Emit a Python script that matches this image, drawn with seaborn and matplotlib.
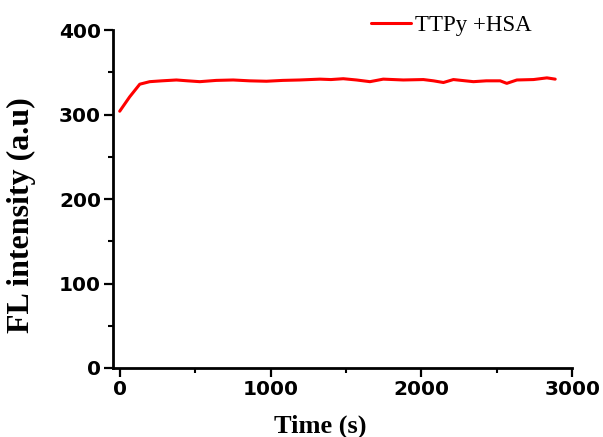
import matplotlib
matplotlib.use("Agg")
import matplotlib.pyplot as plt
import seaborn as sns
import pandas as pd
from matplotlib.ticker import MultipleLocator

time_s = [0, 66, 133, 199, 280, 376, 450, 531, 640, 752, 860, 973, 1080, 1194, 1327,
          1400, 1482, 1570, 1659, 1747, 1880, 2013, 2080, 2146, 2212, 2345, 2430, 2522,
          2566, 2633, 2743, 2832, 2887]
intensity = [304, 321, 336, 339, 340, 341, 340, 339, 340.5, 341, 340, 339.5, 340.5, 341, 342,
             341.5, 342.5, 341, 339, 342, 341, 341.5, 340, 338, 341.5, 339, 340, 340,
             337, 341, 341.5, 343.5, 342]
series_label = "TTPy +HSA"

df = pd.DataFrame({"Time (s)": time_s, "FL intensity (a.u)": intensity, "series": series_label})

sns.set_style("ticks")
plt.rcParams["text.color"] = "black"
plt.rcParams["axes.labelcolor"] = "black"
plt.rcParams["xtick.color"] = "black"
plt.rcParams["ytick.color"] = "black"

fig = plt.figure(figsize=(6.03, 4.37), dpi=100)
ax = fig.add_axes([0.187, 0.158, 0.762, 0.773])
sns.lineplot(data=df, x="Time (s)", y="FL intensity (a.u)", hue="series",
             palette=["#ff0000"], linewidth=2.2, ax=ax)

ax.set_xlim(-46, 3000)
ax.set_ylim(0, 400)
ax.xaxis.set_major_locator(MultipleLocator(1000))
ax.xaxis.set_minor_locator(MultipleLocator(500))
ax.yaxis.set_major_locator(MultipleLocator(100))
ax.yaxis.set_minor_locator(MultipleLocator(50))
for s in ["top", "right"]:
    ax.spines[s].set_visible(False)
for s in ["left", "bottom"]:
    ax.spines[s].set_linewidth(2.0)
    ax.spines[s].set_color("black")
ax.tick_params(which="major", direction="out", length=6.5, width=1.6, color="black")
ax.tick_params(which="minor", direction="out", length=3.5, width=1.5, color="black")
ax.tick_params(axis="x", which="major", pad=2)
ax.tick_params(axis="y", which="major", pad=2)
for lab in ax.get_xticklabels() + ax.get_yticklabels():
    lab.set_fontfamily("DejaVu Sans")
    lab.set_fontweight("bold")
    lab.set_fontsize(14.5)
    lab.set_color("black")
ax.set_xlabel("Time (s)", family="Liberation Serif", fontweight="bold", fontsize=19,
              color="black", va="top")
ax.xaxis.set_label_coords(0.451, -0.138)
ax.set_ylabel("FL intensity (a.u)", family="Liberation Serif", fontweight="bold", fontsize=23,
              color="black")
ax.yaxis.set_label_coords(-0.166, 0.453)

leg = ax.legend(loc="upper right", bbox_to_anchor=(0.941, 1.085), frameon=False,
                prop={"family": "Liberation Serif", "size": 16.5},
                handlelength=1.75, handletextpad=0.15, borderaxespad=0.2)
for h in leg.get_lines():
    h.set_linewidth(2.2)

fig.savefig("out.png", dpi=100)
